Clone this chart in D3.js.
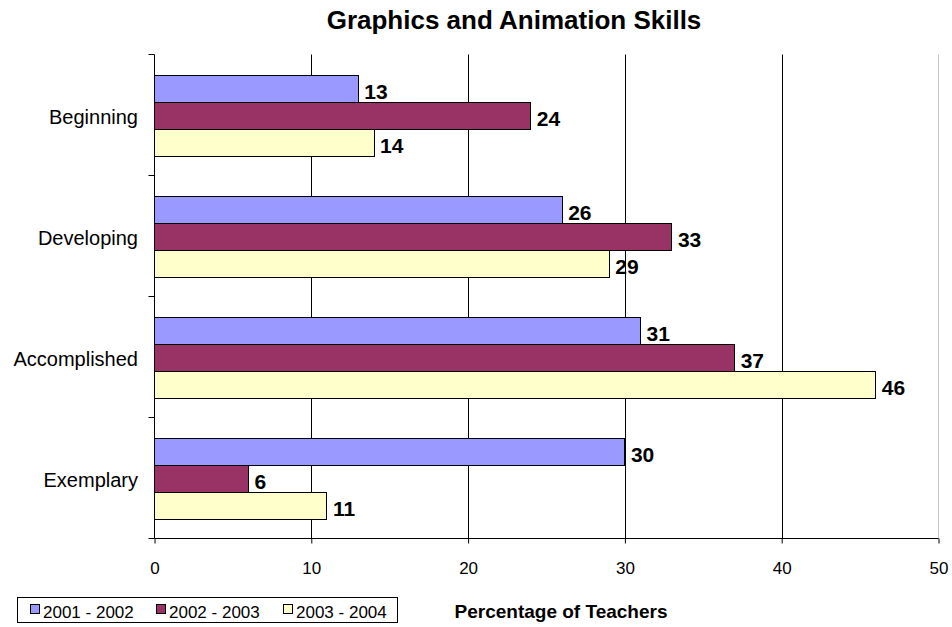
<!DOCTYPE html>
<html>
<head>
<meta charset="utf-8">
<script src="https://cdn.jsdelivr.net/npm/d3@7"></script>
<style>
  body { margin: 0; background: #fff; }
  text { font-family: "Liberation Sans", Arial, sans-serif; fill: #000; }
</style>
</head>
<body>
<svg id="chart"></svg>
<script>
// data
var categories = ['Beginning', 'Developing', 'Accomplished', 'Exemplary'];
var seriesNames = ['2001 - 2002', '2002 - 2003', '2003 - 2004'];
var values2001 = [13, 26, 31, 30];
var values2002 = [24, 33, 37, 6];
var values2003 = [14, 29, 46, 11];
var xTicks = [0, 10, 20, 30, 40, 50];
var colors = ['#9999FF', '#993366', '#FFFFCC'];

var config = { width: 952, height: 627 };

var svg = d3.select('#chart')
  .attr('width', config.width)
  .attr('height', config.height);

// build rows for drawing
var allValues = [values2001, values2002, values2003];
var rows = [];
categories.forEach(function(c, i) {
  seriesNames.forEach(function(s, j) {
    rows.push({ cat: c, series: s, idx: j, value: allValues[j][i] });
  });
});

// scales
var x = d3.scaleLinear().domain([0, 50]).range([154.5, 938.5]);
var y = d3.scaleBand().domain(categories).range([54.5, 538.5]).padding(0);
var ySub = d3.scaleBand().domain(seriesNames).range([20, y.bandwidth() - 20]).padding(0);

// title
svg.append('text')
  .attr('x', 514)
  .attr('y', 29)
  .attr('text-anchor', 'middle')
  .style('font-size', '26px')
  .style('font-weight', 'bold')
  .text('Graphics and Animation Skills');

// gridlines
var g = svg.append('g');
g.selectAll('line.grid')
  .data(xTicks.slice(1, -1))
  .enter()
  .append('line')
  .attr('class', 'grid')
  .attr('x1', function(d) { return Math.round(x(d)) + 0.5; })
  .attr('x2', function(d) { return Math.round(x(d)) + 0.5; })
  .attr('y1', y.range()[0])
  .attr('y2', y.range()[1])
  .attr('stroke', '#000')
  .attr('stroke-width', 1);

// right border of plot area
g.append('line')
  .attr('x1', x(50)).attr('x2', x(50))
  .attr('y1', y.range()[0]).attr('y2', y.range()[1])
  .attr('stroke', '#c8c8c8');

// bars
g.selectAll('rect.bar')
  .data(rows)
  .enter()
  .append('rect')
  .attr('class', 'bar')
  .attr('x', x(0))
  .attr('y', function(d) { return Math.round(y(d.cat) + ySub(d.series)) + 0.5; })
  .attr('width', function(d) { return Math.round(x(d.value) - x(0)); })
  .attr('height', ySub.bandwidth())
  .attr('fill', function(d) { return colors[d.idx]; })
  .attr('stroke', '#000')
  .attr('stroke-width', 1);

// value labels
g.selectAll('text.val')
  .data(rows)
  .enter()
  .append('text')
  .attr('class', 'val')
  .attr('x', function(d) { return x(d.value) + 6; })
  .attr('y', function(d) { return y(d.cat) + ySub(d.series) + ySub.bandwidth() - 2.5; })
  .style('font-size', '21px')
  .style('font-weight', 'bold')
  .text(function(d) { return d.value; });

// x axis
var xAxis = g.append('g')
  .attr('transform', 'translate(0,' + y.range()[1] + ')')
  .call(d3.axisBottom(x).tickValues(xTicks).tickSize(5).tickPadding(18).tickFormat(d3.format('d')));
xAxis.select('.domain').attr('stroke', '#000').attr('d', 'M' + x(0) + ',0H' + x(50));
xAxis.selectAll('.tick line').attr('stroke', '#000');
xAxis.selectAll('.tick text')
  .style('font-size', '17px')
  .style('font-family', '"Liberation Sans", Arial, sans-serif');

// y axis line and boundary ticks
g.append('line')
  .attr('x1', x(0)).attr('x2', x(0))
  .attr('y1', y.range()[0]).attr('y2', y.range()[1])
  .attr('stroke', '#000');
var bounds = categories.map(function(c) { return y(c); }).concat([y.range()[1]]);
g.selectAll('line.ytick')
  .data(bounds)
  .enter()
  .append('line')
  .attr('class', 'ytick')
  .attr('x1', x(0) - 6).attr('x2', x(0))
  .attr('y1', function(d) { return d; })
  .attr('y2', function(d) { return d; })
  .attr('stroke', '#000');

g.selectAll('text.cat')
  .data(categories)
  .enter()
  .append('text')
  .attr('class', 'cat')
  .attr('x', 138)
  .attr('y', function(d) { return y(d) + y.bandwidth() / 2; })
  .attr('dy', '0.45em')
  .attr('text-anchor', 'end')
  .style('font-size', '20px')
  .text(function(d) { return d; });

// axis title
svg.append('text')
  .attr('x', 561)
  .attr('y', 618)
  .attr('text-anchor', 'middle')
  .style('font-size', '19px')
  .style('font-weight', 'bold')
  .text('Percentage of Teachers');

// legend
var legend = svg.append('g');
legend.append('rect')
  .attr('x', 17.5).attr('y', 597.5)
  .attr('width', 380).attr('height', 25)
  .attr('fill', '#fff')
  .attr('stroke', '#000');
var legendX = [30, 156, 283];
var items = legend.selectAll('g.item')
  .data(seriesNames)
  .enter()
  .append('g')
  .attr('class', 'item')
  .attr('transform', function(d, i) { return 'translate(' + legendX[i] + ',0)'; });
items.append('rect')
  .attr('x', 0.5).attr('y', 604.5)
  .attr('width', 9).attr('height', 9)
  .attr('fill', function(d, i) { return colors[i]; })
  .attr('stroke', '#000');
items.append('text')
  .attr('x', 13)
  .attr('y', 618)
  .style('font-size', '17px')
  .text(function(d) { return d; });
</script>
</body>
</html>
